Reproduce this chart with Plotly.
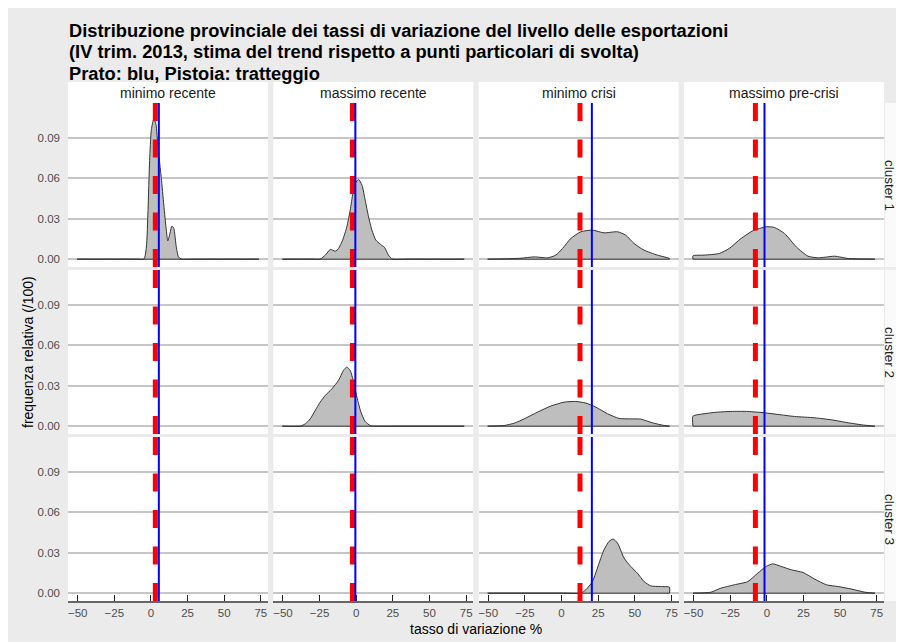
import plotly.graph_objects as go

# ---------------- data ----------------
col_labels = ["minimo recente", "massimo recente", "minimo crisi", "massimo pre-crisi"]
row_labels = ["cluster 1", "cluster 2", "cluster 3"]
x_ticks = [-50, -25, 0, 25, 50, 75]
y_ticks = [0.00, 0.03, 0.06, 0.09]
y_ticktext = ["0.00", "0.03", "0.06", "0.09"]

pistoia = [3.0, -2.6, 12.6, -7.8]   # red dashed
prato = [5.4, -0.6, 20.7, -1.6]     # blue solid

r1c1_x = [-50.4, -10, -4.8, -3.1, -2.0, -0.9, 0.3, 2.0, 3.4, 4.8, 5.9, 7.1, 8.8, 10.5, 11.5, 12.7, 14.3, 15.6, 17.3, 18.8, 20.7, 30, 73.7]
r1c1_y = [0, 0, 0, 0.009, 0.036, 0.073, 0.096, 0.104, 0.100, 0.083, 0.072, 0.060, 0.040, 0.0215, 0.0135, 0.0178, 0.0245, 0.0228, 0.0091, 0.0017, 0, 0, 0]

r1c2_x = [-50.4, -30, -24.6, -21.1, -17.7, -14.3, -12.1, -9.3, -6.4, -4.1, -2.3, -0.7, 1.6, 3.9, 6.1, 8.4, 10.7, 13.4, 16.4, 19.3, 22.0, 24.8, 35, 73.7]
r1c2_y = [0, 0, 0, 0.003, 0.0072, 0.0059, 0.0079, 0.0141, 0.024, 0.0364, 0.0487, 0.0562, 0.0591, 0.0549, 0.0438, 0.0314, 0.0215, 0.0141, 0.0111, 0.0087, 0.003, 0, 0, 0]

r1c3_x = [-50.4, -40, -27.7, -18.7, -9.5, -3.9, 0.7, 6.3, 13.2, 21.1, 29.0, 38.2, 43.8, 49.5, 56.3, 65.4, 73.7, 73.7]
r1c3_y = [0, 0.0002, 0.0007, 0.0017, 0.0010, 0.003, 0.0079, 0.0153, 0.0203, 0.0215, 0.0195, 0.0203, 0.0178, 0.0116, 0.0067, 0.003, 0.0005, 0]

r1c4_x = [-50.4, -50.4, -42.8, -32.5, -25.7, -17.6, -9.6, -0.5, 5.2, 12.1, 20.1, 28.1, 35.0, 40.0, 46.4, 55.6, 73.7]
r1c4_y = [0, 0.0025, 0.003, 0.0042, 0.0079, 0.0153, 0.021, 0.024, 0.0235, 0.019, 0.0091, 0.0022, 0.001, 0.0015, 0.0022, 0.0005, 0]

r2c2_x = [-50.4, -38.2, -34.8, -31.4, -28.0, -24.6, -21.1, -16.6, -12.1, -8.7, -6.4, -4.1, -1.8, 0.5, 3.2, 6.1, 9.5, 11.8, 25, 73.7]
r2c2_y = [0, 0, 0.0017, 0.0054, 0.0116, 0.0178, 0.0228, 0.0277, 0.0339, 0.0413, 0.0438, 0.0413, 0.0326, 0.0215, 0.0104, 0.0035, 0.0005, 0, 0, 0]

r2c3_x = [-50.4, -39.1, -32.3, -25.5, -16.4, -7.3, 1.8, 9.7, 16.6, 23.4, 31.4, 39.3, 47.2, 54.1, 62.0, 70.0, 73.7]
r2c3_y = [0, 0.0005, 0.0022, 0.0054, 0.0104, 0.0149, 0.0178, 0.0183, 0.0171, 0.0141, 0.0092, 0.0057, 0.0054, 0.0052, 0.0025, 0.0005, 0]

r2c4_x = [-50.4, -50.4, -42.8, -33.6, -24.5, -13.0, -1.6, 7.5, 18.9, 32.7, 44.1, 55.6, 64.7, 73.7]
r2c4_y = [0, 0.0074, 0.0092, 0.0104, 0.0109, 0.0109, 0.0099, 0.0087, 0.0072, 0.0062, 0.0047, 0.0025, 0.001, 0]

r3c3_x = [-50.4, 0, 13.2, 16.6, 21.1, 25.6, 29.0, 32.4, 35.2, 38.2, 42.7, 47.2, 51.8, 56.3, 60.9, 67.7, 73.7, 73.7]
r3c3_y = [0, 0, 0, 0.0025, 0.0086, 0.0222, 0.0321, 0.0383, 0.0401, 0.0371, 0.026, 0.0198, 0.0148, 0.0086, 0.0054, 0.0049, 0.0044, 0]

r3c4_x = [-50.4, -38.2, -31.4, -22.2, -13.0, -6.2, -0.5, 4.1, 9.8, 16.7, 24.7, 32.7, 40.7, 48.7, 57.9, 67.0, 73.7]
r3c4_y = [0, 0.0007, 0.0037, 0.0062, 0.0086, 0.0148, 0.0198, 0.0217, 0.0198, 0.0173, 0.0153, 0.0104, 0.0062, 0.0049, 0.003, 0.0007, 0]

densities = {
    (0, 0): (r1c1_x, r1c1_y), (0, 1): (r1c2_x, r1c2_y),
    (0, 2): (r1c3_x, r1c3_y), (0, 3): (r1c4_x, r1c4_y),
    (1, 1): (r2c2_x, r2c2_y), (1, 2): (r2c3_x, r2c3_y),
    (1, 3): (r2c4_x, r2c4_y),
    (2, 2): (r3c3_x, r3c3_y), (2, 3): (r3c4_x, r3c4_y),
}

# ---------------- layout geometry (page pixels) ----------------
OFF = 8                      # page body margin
W, H = 904, 634              # figure size
col_left = [68, 273.3, 478.6, 683.9]
col_w = 200
row_top = [103, 270, 437]
row_h = 164
XR = [-56.6, 79.9]
YR = [-0.0058, 0.1157]
BG = "#ebebeb"
FONT = "Liberation Sans, Arial, Helvetica, sans-serif"


def px(x):
    return (x - OFF) / W


def py(y):
    return 1 - (y - OFF) / H


fig = go.Figure()
layout = dict(width=W, height=H, margin=dict(l=0, r=0, t=0, b=0),
              paper_bgcolor=BG, plot_bgcolor="white", showlegend=False,
              font=dict(family=FONT, color="#1a1a1a"))
shapes = []
annotations = []

for r in range(3):
    for c in range(4):
        idx = r * 4 + c + 1
        sfx = "" if idx == 1 else str(idx)
        xa, ya = "x" + sfx, "y" + sfx
        bottom = r == 2
        layout["xaxis" + sfx] = dict(
            domain=[px(col_left[c]), px(col_left[c] + col_w)], anchor=ya,
            range=XR, showgrid=False, zeroline=False, tickmode="array",
            tickvals=x_ticks, showticklabels=bottom,
            ticks="inside" if bottom else "", ticklen=6, tickwidth=1, tickcolor="#222222",
            showline=bottom, linecolor="#666666", linewidth=1.5,
            tickfont=dict(size=11.5, color="#4d4d4d", family=FONT), ticklabelstandoff=0,
            fixedrange=True)
        layout["yaxis" + sfx] = dict(
            domain=[py(row_top[r] + row_h), py(row_top[r])], anchor=xa,
            range=YR, showgrid=True, gridcolor="#c6c6c6", gridwidth=1.5,
            zeroline=False, tickmode="array", tickvals=y_ticks, ticktext=y_ticktext,
            showticklabels=(c == 0), ticks="",
            tickfont=dict(size=11.5, color="#4d4d4d", family=FONT), ticklabelstandoff=7,
            fixedrange=True)
        if (r, c) in densities:
            xs, ys = densities[(r, c)]
            fig.add_trace(go.Scatter(x=xs, y=ys, mode="lines", xaxis=xa, yaxis=ya,
                                     line=dict(color="#333333", width=1, shape="spline", smoothing=0.6),
                                     fill="tozeroy", fillcolor="#bebebe", hoverinfo="skip"))
            fig.add_trace(go.Scatter(x=[xs[0], xs[-1]], y=[0, 0], mode="lines", xaxis=xa, yaxis=ya,
                                     line=dict(color="#333333", width=1), hoverinfo="skip"))
        shapes.append(dict(type="line", xref=xa, yref=ya + " domain", x0=pistoia[c], x1=pistoia[c],
                           y0=0, y1=1, line=dict(color="#ff0000", width=5, dash="18px,18.5px")))
        shapes.append(dict(type="line", xref=xa, yref=ya + " domain", x0=prato[c], x1=prato[c],
                           y0=0, y1=1, line=dict(color="#0000ff", width=2)))

# top strips
for c in range(4):
    shapes.append(dict(type="rect", xref="paper", yref="paper", x0=px(col_left[c]), x1=px(col_left[c] + col_w),
                       y0=py(103), y1=py(82), fillcolor="white", line=dict(width=0), layer="below"))
    annotations.append(dict(text=col_labels[c], xref="paper", yref="paper",
                            x=px(col_left[c] + col_w / 2), y=py(93), showarrow=False,
                            xanchor="center", yanchor="middle",
                            font=dict(size=14, color="#1a1a1a", family=FONT)))
# right strips
for r in range(3):
    shapes.append(dict(type="rect", xref="paper", yref="paper", x0=px(885), x1=px(904),
                       y0=py(row_top[r] + row_h), y1=py(row_top[r]), fillcolor="#fafafa",
                       line=dict(width=0), layer="below"))
    annotations.append(dict(text=row_labels[r], xref="paper", yref="paper",
                            x=px(890), y=py(row_top[r] + row_h / 2), showarrow=False, textangle=90,
                            xanchor="center", yanchor="middle",
                            font=dict(size=13.5, color="#1a1a1a", family=FONT)))

# titles
title_lines = ["Distribuzione provinciale dei tassi di variazione del livello delle esportazioni",
               "(IV trim. 2013, stima del trend rispetto a punti particolari di svolta)",
               "Prato: blu, Pistoia: tratteggio"]
for i, (t, yy) in enumerate(zip(title_lines, [30, 51.5, 73])):
    annotations.append(dict(text="<b>" + t + "</b>", xref="paper", yref="paper", x=px(67), y=py(yy),
                            showarrow=False, xanchor="left", yanchor="middle",
                            font=dict(size=18.3, color="black", family=FONT)))

annotations.append(dict(text="tasso di variazione %", xref="paper", yref="paper",
                        x=px((col_left[0] + col_left[3] + col_w) / 2), y=py(629), showarrow=False,
                        xanchor="center", yanchor="middle", font=dict(size=14, color="black", family=FONT)))
annotations.append(dict(text="frequenza relativa (/100)", xref="paper", yref="paper",
                        x=px(28), y=py(352), showarrow=False, textangle=-90,
                        xanchor="center", yanchor="middle", font=dict(size=14, color="black", family=FONT)))

layout["shapes"] = shapes
layout["annotations"] = annotations
fig.update_layout(**layout)
fig.write_html("out.html")
